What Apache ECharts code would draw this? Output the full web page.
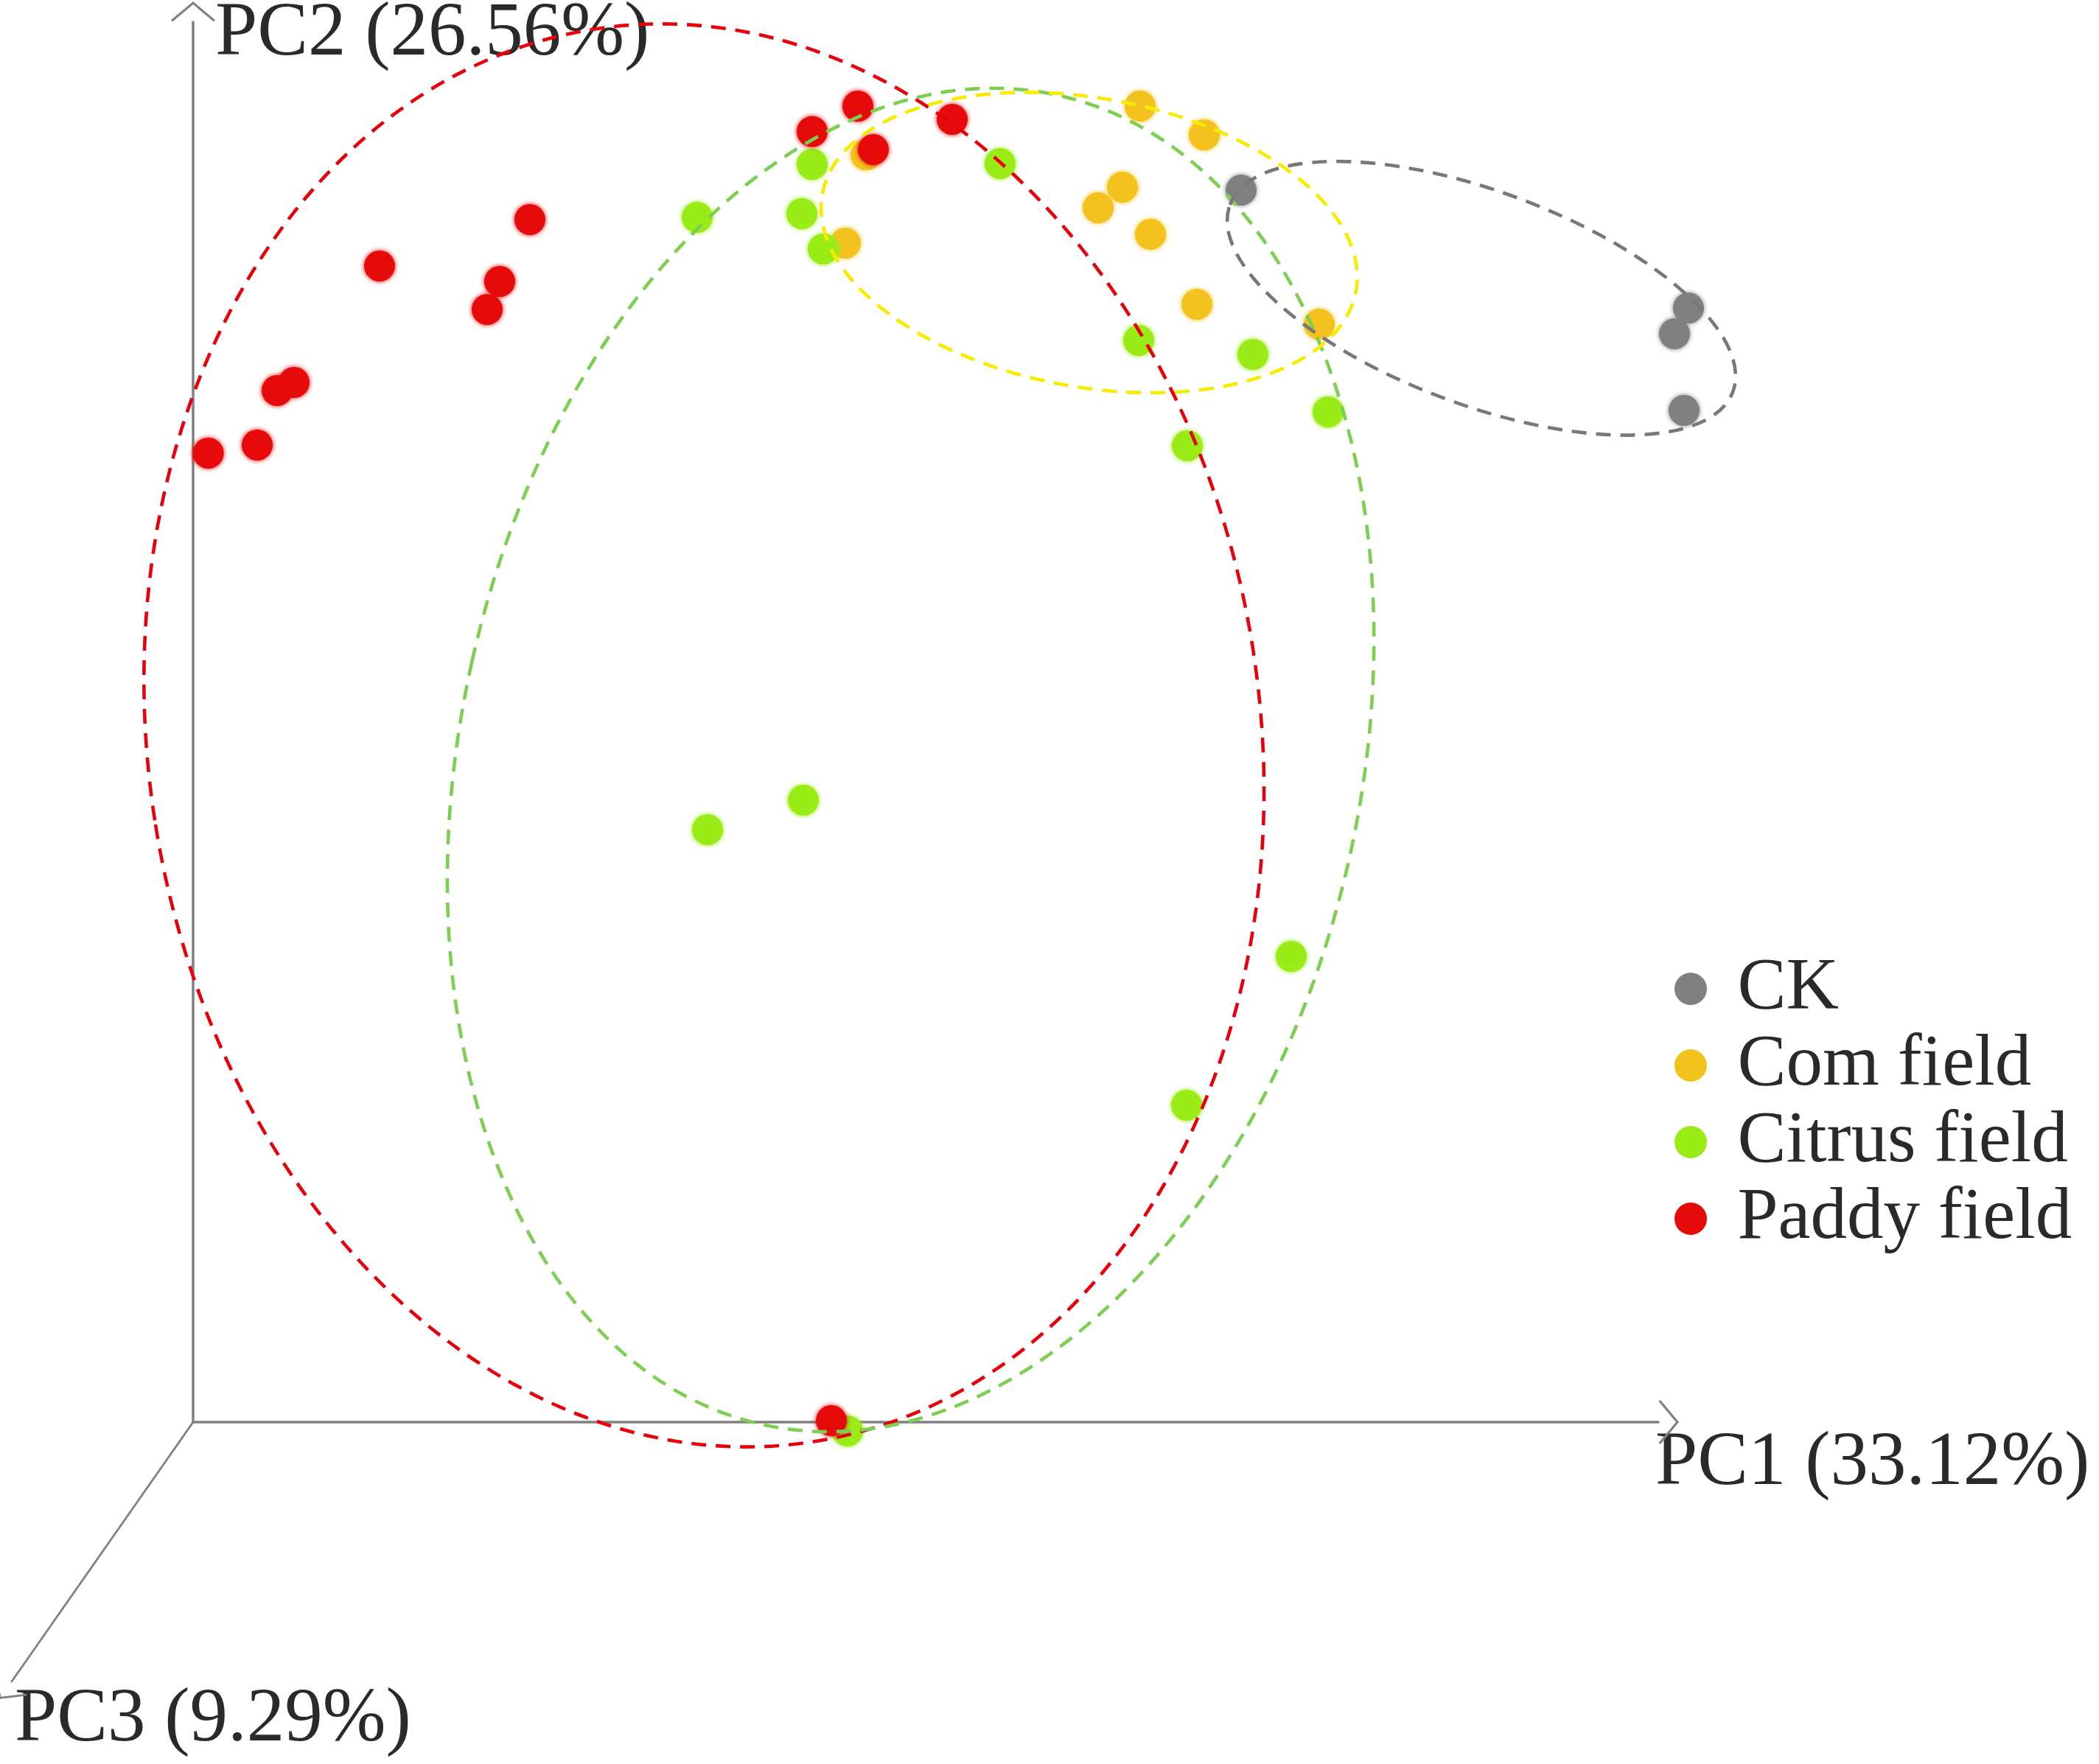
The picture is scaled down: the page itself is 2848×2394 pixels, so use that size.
<!DOCTYPE html>
<html>
<head>
<meta charset="utf-8">
<title>PCA scores</title>
<script src="https://cdn.jsdelivr.net/npm/echarts/dist/echarts.min.js"></script>
<style>
  html, body { margin: 0; padding: 0; background: #fff; }
  #chart { width: 2848px; height: 2394px; }
</style>
</head>
<body>
<div id="chart"></div>
<script>
// sample scores (axis units, origin at the axis corner)
const ckPC1 = [71.1, 101.45, 100.5, 101.15];
const ckPC2 = [83.6, 75.6, 73.85, 68.65];

const comPC1 = [64.25, 68.6, 63.05, 61.4, 64.95, 44.25, 45.65, 68.1, 76.4];
const comPC2 = [89.3, 87.35, 83.8, 82.4, 80.6, 80.0, 86.0, 75.85, 74.5];

const citrusPC1 = [34.2, 41.3, 42.0, 42.75, 54.75, 64.15, 71.9, 67.45, 77.0, 41.4, 34.9, 74.5, 67.4, 44.4];
const citrusPC2 = [81.75, 82.0, 85.35, 79.6, 85.4, 73.4, 72.45, 66.25, 68.55, 42.2, 40.2, 31.6, 21.5, -0.6];

const paddyPC1 = [1.03, 4.35, 5.7, 6.85, 12.65, 19.95, 20.8, 22.85, 42.0, 45.1, 46.15, 51.5, 43.3];
const paddyPC2 = [65.75, 66.3, 70.0, 70.55, 78.45, 75.5, 77.4, 81.6, 87.57, 89.3, 86.35, 88.4, 0.1];

// group ellipses: centre, half axes, tilt in degrees
const ellipseGroup = ['Paddy field', 'Citrus field', 'Com field', 'CK'];
const ellipseCx = [34.66, 48.68, 60.79, 87.4];
const ellipseCy = [46.6, 44.93, 80.04, 76.26];
const ellipseRx = [37.7, 30.5, 18.4, 18.2];
const ellipseRy = [48.5, 46.2, 9.8, 7.24];
const ellipseTilt = [8.8, -12.6, -10.3, -20.4];

const legendNames = ['CK', 'Com field', 'Citrus field', 'Paddy field'];
const axisTitles = ['PC1 (33.12%)', 'PC2 (26.56%)', 'PC3 (9.29%)'];

const FONT = '"Liberation Serif", "Times New Roman", serif';
const AXIS_COLOR = '#808080';
const TEXT_COLOR = '#2a2a2a';
const dotColor = {
  'CK': '#808080',
  'Com field': '#f4c21f',
  'Citrus field': '#99ec16',
  'Paddy field': '#e60a0a'
};
const ringColor = {
  'CK': '#787878',
  'Com field': '#f7ec00',
  'Citrus field': '#7dcf52',
  'Paddy field': '#e8000b'
};
// open chevron, tip in the middle of the box so it sits on the line end
const ARROW = 'path://M30,0 L60,25 L58,27.6 L30,4 L2,27.6 L0,25 Z M30,56 L30.2,56 L30,56.2 Z';
const PC3_END = [-12.34, -17.65];

const zip = (xs, ys) => xs.map((x, i) => [x, ys[i]]);

const scatter = (name, xs, ys) => ({
  name: name,
  type: 'scatter',
  data: zip(xs, ys),
  symbol: 'circle',
  symbolSize: 42,
  clip: false,
  silent: true,
  itemStyle: {
    color: dotColor[name],
    opacity: 1,
    shadowBlur: 6,
    shadowColor: dotColor[name]
  },
  emphasis: { disabled: true },
  z: 2
});

const chart = echarts.init(document.getElementById('chart'));

const option = {
  backgroundColor: '#fff',
  animation: false,
  grid: {
    left: 262,
    top: 30,
    width: 1988,
    height: 1900,
    containLabel: false,
    outerBoundsMode: 'none'
  },
  xAxis: {
    type: 'value',
    min: 0,
    max: 99.4,
    name: axisTitles[0],
    nameLocation: 'end',
    nameGap: -4,
    nameMoveOverlap: false,
    nameTextStyle: {
      fontFamily: FONT,
      fontSize: 103,
      color: TEXT_COLOR,
      align: 'left',
      verticalAlign: 'top',
      padding: [5, 0, 0, 0]
    },
    axisLine: {
      show: true,
      onZero: false,
      symbol: ['none', ARROW],
      symbolSize: [60, 56],
      lineStyle: { color: AXIS_COLOR, width: 3.5 }
    },
    axisTick: { show: false },
    axisLabel: { show: false },
    splitLine: { show: false }
  },
  yAxis: {
    type: 'value',
    min: 0,
    max: 95,
    name: axisTitles[1],
    nameLocation: 'end',
    nameGap: -17,
    nameMoveOverlap: false,
    nameTextStyle: {
      fontFamily: FONT,
      fontSize: 103,
      color: TEXT_COLOR,
      align: 'left',
      verticalAlign: 'middle',
      padding: [0, 0, 0, 30]
    },
    axisLine: {
      show: true,
      onZero: false,
      symbol: ['none', ARROW],
      symbolSize: [60, 56],
      lineStyle: { color: AXIS_COLOR, width: 3.5 }
    },
    axisTick: { show: false },
    axisLabel: { show: false },
    splitLine: { show: false }
  },
  legend: {
    data: legendNames,
    orient: 'vertical',
    left: 2272,
    top: 1290,
    padding: 0,
    itemGap: 0,
    itemWidth: 117,
    itemHeight: 44,
    icon: 'circle',
    selectedMode: false,
    textStyle: {
      fontFamily: FONT,
      fontSize: 99,
      color: TEXT_COLOR,
      lineHeight: 104
    }
  },
  graphic: [{
    type: 'text',
    left: 20,
    top: 2283,
    style: {
      text: axisTitles[2],
      font: '103px ' + FONT,
      fill: TEXT_COLOR
    }
  }],
  series: [
    {
      type: 'lines',
      coordinateSystem: 'cartesian2d',
      clip: false,
      silent: true,
      symbol: ['none', ARROW],
      symbolSize: [60, 56],
      lineStyle: { color: AXIS_COLOR, width: 2.8, opacity: 1, curveness: 0 },
      data: [{ coords: [[0, 0], PC3_END] }],
      z: 1
    },
    scatter('CK', ckPC1, ckPC2),
    scatter('Com field', comPC1, comPC2),
    scatter('Citrus field', citrusPC1, citrusPC2),
    scatter('Paddy field', paddyPC1, paddyPC2),
    {
      type: 'custom',
      clip: false,
      silent: true,
      z: 5,
      data: ellipseCx.map((cx, i) => [cx, ellipseCy[i], ellipseRx[i], ellipseRy[i], ellipseTilt[i]]),
      encode: { x: 0, y: 1 },
      renderItem: (params, api) => {
        const cx = api.value(0);
        const cy = api.value(1);
        const c = api.coord([cx, cy]);
        const r = api.size([api.value(2), api.value(3)], [cx, cy]);
        return {
          type: 'ellipse',
          x: c[0],
          y: c[1],
          rotation: api.value(4) * Math.PI / 180,
          shape: { cx: 0, cy: 0, rx: r[0], ry: r[1] },
          style: {
            fill: 'none',
            stroke: ringColor[ellipseGroup[params.dataIndex]],
            lineWidth: 4.6,
            lineDash: [20, 13]
          }
        };
      }
    }
  ]
};

chart.setOption(option);
</script>
</body>
</html>
